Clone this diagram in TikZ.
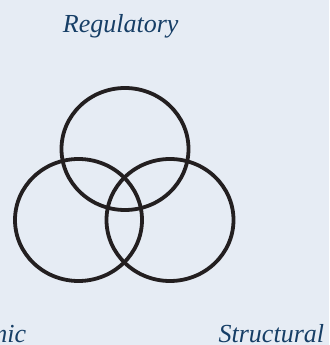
\documentclass[tikz,border=0pt]{standalone}
\usepackage{fontspec}
\setmainfont{Liberation Serif}
\usepackage{xcolor}
\usepackage{tikz}
\definecolor{fondo}{RGB}{230,236,244}
\definecolor{rotulo}{RGB}{22,62,102}
\definecolor{trazo}{RGB}{35,31,32}

\begin{document}
\begin{tikzpicture}[x=1pt, y=1pt, line width=3.8pt]
    \fill[fondo] (0,0) rectangle (329,345);
    \useasboundingbox (0,0) rectangle (329,345);
    \tikzset{etiqueta/.style={rotulo,font=\fontsize{26}{30}\selectfont\itshape,inner sep=0pt}}
    \draw[trazo] (125,196) ellipse (63.5 and 61);
    \draw[trazo] (78.5,125) ellipse (63.5 and 61);
    \draw[trazo] (170,125) ellipse (63.5 and 61);
    \node[etiqueta,anchor=base west] (reg) at (61,312) {Regulatory};
    \node[etiqueta,anchor=base east] (eco) at (28,2) {Economic};
    \node[etiqueta,anchor=base east] (est) at (326,2) {Structural};
\end{tikzpicture}
\end{document}
